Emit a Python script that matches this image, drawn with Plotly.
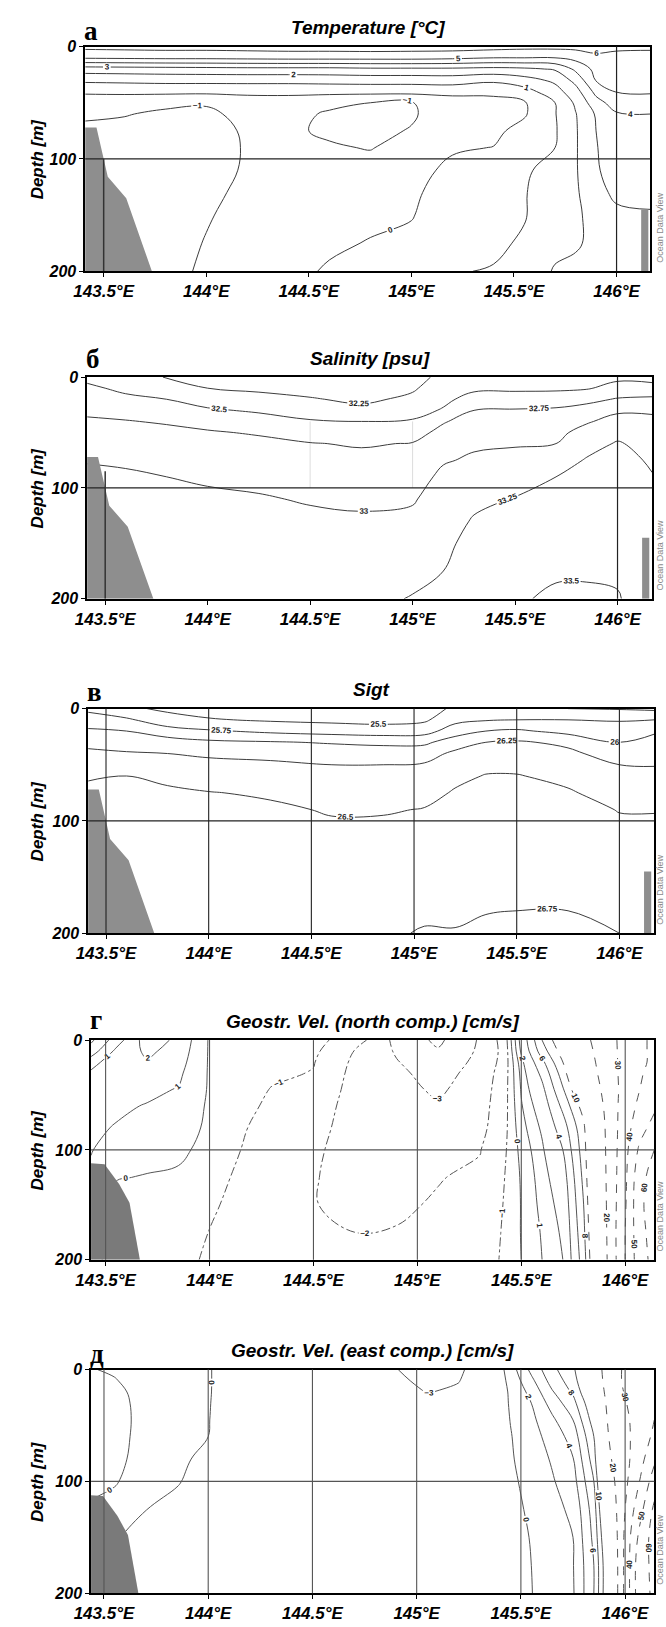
import plotly.graph_objects as go

W, H = 666, 1627

# ---------------- axis ticks ----------------
LON_TICKS = [143.5, 144.0, 144.5, 145.0, 145.5, 146.0]
LON_TICK_TEXT = ["143.5°E", "144°E", "144.5°E", "145°E", "145.5°E", "146°E"]
DEPTH_TICKS = [0, 100, 200]
DEPTH_TICK_TEXT = ["0", "100", "200"]

# ---------------- Temperature [°C] (station profiles) ----------------
T_DEPTH = [0, 10, 20, 30, 40, 50, 60, 75, 90, 110, 130, 150, 175, 200]
T_LON = [143.40, 143.6, 143.8, 144.0, 144.2, 144.4, 144.6, 144.8, 145.0,
         145.2, 145.4, 145.55, 145.7, 145.8, 145.9, 146.0, 146.17]
T_PROFILES = [
    [6.3, 5.1, 2.5, 1.2, 0.15, -0.5, -0.85, -1.2, -1.3, -1.3, -1.3, -1.3, -1.3, -1.3],
    [6.35, 5.15, 2.55, 1.25, 0.2, -0.55, -0.95, -1.25, -1.35, -1.35, -1.35, -1.35, -1.35, -1.35],
    [6.4, 5.2, 2.6, 1.3, 0.25, -0.8, -1.15, -1.3, -1.35, -1.35, -1.3, -1.3, -1.25, -1.2],
    [6.4, 5.2, 2.65, 1.3, 0.25, -0.95, -1.1, -1.15, -1.15, -1.1, -1.1, -1.05, -0.97, -0.9],
    [6.45, 5.25, 2.7, 1.3, 0.3, -0.6, -0.85, -0.95, -0.97, -0.97, -0.9, -0.8, -0.7, -0.6],
    [6.5, 5.3, 2.7, 1.3, 0.3, -0.55, -0.75, -0.85, -0.8, -0.7, -0.6, -0.5, -0.4, -0.25],
    [6.5, 5.3, 2.7, 1.35, 0.3, -0.8, -1.1, -1.15, -0.9, -0.6, -0.45, -0.3, -0.15, 0.1],
    [6.55, 5.3, 2.8, 1.4, 0.3, -1.0, -1.2, -1.2, -1.05, -0.6, -0.4, -0.2, 0.05, 0.3],
    [6.5, 5.3, 2.8, 1.4, 0.3, -1.05, -1.1, -0.95, -0.6, -0.3, -0.15, -0.05, 0.2, 0.5],
    [6.5, 5.2, 2.8, 1.45, 0.35, -0.55, -0.5, -0.3, -0.1, 0.2, 0.4, 0.55, 0.75, 0.95],
    [6.4, 5.0, 2.7, 1.2, 0.15, -0.2, -0.35, -0.2, 0.02, 0.4, 0.6, 0.7, 0.85, 1.05],
    [6.3, 5.0, 2.8, 1.6, 0.6, -0.1, -0.1, 0.3, 0.7, 0.9, 0.95, 0.95, 1.1, 1.3],
    [6.3, 5.0, 3.1, 2.2, 1.6, 1.0, 0.95, 0.9, 1.0, 1.25, 1.45, 1.5, 1.7, 2.1],
    [6.3, 5.3, 4.2, 3.3, 2.6, 2.15, 1.95, 1.9, 1.9, 1.9, 1.85, 1.8, 1.85, 2.3],
    [6.3, 5.8, 5.3, 5.05, 4.3, 3.6, 3.1, 3.0, 2.95, 2.9, 2.7, 2.4, 2.3, 2.4],
    [6.2, 5.7, 5.4, 5.2, 5.05, 4.5, 3.9, 3.6, 3.5, 3.4, 3.2, 2.8, 2.6, 2.5],
    [6.1, 5.8, 5.5, 5.3, 5.1, 4.6, 4.0, 3.7, 3.6, 3.5, 3.3, 2.9, 2.7, 2.6],
]

# ---------------- Salinity [psu] ----------------
S_DEPTH = [0, 10, 20, 30, 40, 50, 60, 75, 90, 110, 130, 150, 175, 200]
S_LON = [143.40, 143.6, 143.8, 144.0, 144.25, 144.5, 144.75, 145.0, 145.15,
         145.3, 145.5, 145.7, 145.85, 146.0, 146.17]
S_PROFILES = [
    [32.45, 32.55, 32.63, 32.71, 32.78, 32.85, 32.91, 32.99, 33.04, 33.08, 33.1, 33.12, 33.14, 33.15],
    [32.35, 32.45, 32.55, 32.68, 32.76, 32.83, 32.89, 32.97, 33.03, 33.08, 33.1, 33.12, 33.14, 33.15],
    [32.24, 32.38, 32.5, 32.62, 32.73, 32.8, 32.86, 32.93, 33.0, 33.05, 33.09, 33.11, 33.13, 33.15],
    [32.15, 32.25, 32.4, 32.53, 32.68, 32.77, 32.83, 32.9, 32.97, 33.04, 33.08, 33.11, 33.13, 33.15],
    [32.1, 32.2, 32.34, 32.47, 32.6, 32.73, 32.8, 32.87, 32.94, 33.02, 33.07, 33.1, 33.13, 33.15],
    [32.08, 32.16, 32.27, 32.4, 32.52, 32.65, 32.76, 32.84, 32.9, 32.98, 33.05, 33.1, 33.14, 33.17],
    [32.05, 32.12, 32.2, 32.32, 32.5, 32.62, 32.73, 32.81, 32.87, 32.95, 33.04, 33.1, 33.15, 33.2],
    [32.18, 32.22, 32.3, 32.42, 32.52, 32.66, 32.76, 32.84, 32.9, 32.98, 33.05, 33.12, 33.2, 33.26],
    [32.3, 32.38, 32.45, 32.52, 32.73, 32.82, 32.9, 32.98, 33.05, 33.1, 33.15, 33.2, 33.25, 33.3],
    [32.4, 32.46, 32.58, 32.75, 32.85, 32.92, 32.97, 33.03, 33.1, 33.2, 33.27, 33.32, 33.38, 33.42],
    [32.4, 32.46, 32.6, 32.77, 32.85, 32.92, 32.98, 33.07, 33.16, 33.26, 33.33, 33.38, 33.43, 33.47],
    [32.4, 32.46, 32.62, 32.79, 32.88, 32.95, 33.0, 33.13, 33.25, 33.33, 33.38, 33.42, 33.47, 33.54],
    [32.42, 32.48, 32.68, 32.85, 32.98, 33.07, 33.16, 33.27, 33.34, 33.39, 33.42, 33.45, 33.48, 33.53],
    [32.45, 32.58, 32.77, 32.97, 33.07, 33.18, 33.27, 33.33, 33.37, 33.4, 33.43, 33.45, 33.48, 33.51],
    [32.42, 32.58, 32.8, 32.97, 33.05, 33.12, 33.17, 33.22, 33.26, 33.3, 33.35, 33.38, 33.4, 33.42],
]

# ---------------- Sigma-t ----------------
D_DEPTH = [0, 10, 20, 30, 40, 50, 60, 75, 90, 110, 130, 150, 175, 200]
D_LON = [143.40, 143.6, 143.8, 144.0, 144.3, 144.6, 144.85, 145.05, 145.2,
         145.35, 145.5, 145.75, 146.0, 146.17]
D_PROFILES = [
    [25.7, 25.87, 26.04, 26.19, 26.3, 26.39, 26.48, 26.54, 26.57, 26.6, 26.62, 26.64, 26.66, 26.68],
    [25.55, 25.79, 26.0, 26.15, 26.27, 26.38, 26.5, 26.55, 26.58, 26.6, 26.62, 26.64, 26.66, 26.68],
    [25.45, 25.6, 25.85, 26.12, 26.25, 26.35, 26.46, 26.53, 26.57, 26.6, 26.62, 26.64, 26.66, 26.68],
    [25.4, 25.52, 25.78, 26.05, 26.22, 26.3, 26.38, 26.51, 26.56, 26.59, 26.62, 26.64, 26.66, 26.68],
    [25.35, 25.47, 25.7, 26.02, 26.2, 26.28, 26.35, 26.47, 26.54, 26.58, 26.61, 26.64, 26.66, 26.69],
    [25.33, 25.44, 25.65, 25.98, 26.13, 26.25, 26.3, 26.4, 26.48, 26.55, 26.6, 26.63, 26.66, 26.69],
    [25.3, 25.42, 25.62, 25.95, 26.12, 26.25, 26.3, 26.4, 26.48, 26.56, 26.62, 26.66, 26.7, 26.73],
    [25.38, 25.46, 25.65, 25.95, 26.15, 26.27, 26.33, 26.43, 26.51, 26.58, 26.64, 26.68, 26.72, 26.76],
    [25.55, 25.68, 25.88, 26.13, 26.3, 26.38, 26.45, 26.52, 26.58, 26.63, 26.67, 26.7, 26.73, 26.755],
    [25.62, 25.73, 26.0, 26.25, 26.35, 26.45, 26.51, 26.57, 26.62, 26.66, 26.69, 26.715, 26.74, 26.77],
    [25.6, 25.75, 26.04, 26.28, 26.37, 26.45, 26.51, 26.58, 26.63, 26.67, 26.7, 26.72, 26.745, 26.77],
    [25.5, 25.75, 25.92, 26.2, 26.3, 26.38, 26.45, 26.52, 26.59, 26.65, 26.69, 26.72, 26.745, 26.77],
    [25.48, 25.73, 25.88, 26.0, 26.14, 26.25, 26.32, 26.42, 26.49, 26.56, 26.62, 26.67, 26.71, 26.75],
    [25.45, 25.75, 25.97, 26.08, 26.17, 26.24, 26.31, 26.41, 26.49, 26.55, 26.6, 26.64, 26.68, 26.72],
]

# ---------------- Geostrophic velocity, north component [cm/s] ----------------
V_DEPTH = [0, 10, 20, 30, 45, 60, 80, 100, 125, 150, 175, 200]
VN_LON = [143.43, 143.55, 143.7, 143.85, 144.0, 144.15, 144.3, 144.5, 144.7, 144.9,
          145.1, 145.3, 145.42, 145.5, 145.6, 145.7, 145.8, 145.9, 146.0, 146.07, 146.14]
VN_PROFILES = [
    [-1.2, -0.5, 0.5, 1.2, 1.3, 1.25, 1.15, 1.05, 0.8, 0.6, 0.5, 0.4],
    [0.5, 1.2, 1.8, 1.6, 1.4, 1.15, 0.95, 0.5, 0.05, -0.3, -0.4, -0.5],
    [2.5, 2.2, 1.9, 1.5, 1.2, 0.95, 0.7, 0.3, -0.05, -0.3, -0.4, -0.6],
    [1.8, 1.6, 1.4, 1.2, 0.95, 0.75, 0.5, 0.2, -0.15, -0.4, -0.6, -0.8],
    [-0.1, -0.1, -0.1, -0.1, -0.1, -0.15, -0.2, -0.3, -0.6, -0.85, -1.02, -1.1],
    [-0.3, -0.35, -0.4, -0.45, -0.55, -0.7, -0.9, -1.0, -1.2, -1.3, -1.4, -1.5],
    [-0.5, -0.6, -0.7, -0.8, -1.05, -1.2, -1.35, -1.45, -1.55, -1.6, -1.65, -1.7],
    [-0.7, -0.8, -0.95, -1.05, -1.3, -1.5, -1.7, -1.85, -1.95, -1.97, -1.9, -1.8],
    [-1.5, -2.05, -2.2, -2.3, -2.35, -2.4, -2.4, -2.4, -2.3, -2.2, -2.0, -1.85],
    [-3.3, -3.1, -2.95, -2.8, -2.7, -2.6, -2.5, -2.4, -2.3, -2.15, -1.95, -1.8],
    [-4.2, -3.9, -3.6, -3.4, -3.15, -2.9, -2.6, -2.3, -2.05, -1.9, -1.75, -1.65],
    [-2.9, -2.85, -2.75, -2.6, -2.5, -2.4, -2.3, -2.05, -1.8, -1.65, -1.55, -1.5],
    [-1.6, -1.7, -1.65, -1.55, -1.45, -1.4, -1.3, -1.15, -1.0, -0.95, -0.9, -0.85],
    [2.5, 2.2, 1.6, 1.3, 1.1, 0.9, 0.6, 0.3, 0.1, 0.05, 0.05, 0.0],
    [8.0, 7.0, 5.5, 4.5, 3.5, 2.8, 2.2, 1.8, 1.5, 1.3, 1.1, 1.0],
    [12.0, 11.0, 10.0, 9.0, 7.8, 6.5, 5.0, 4.0, 3.0, 2.5, 2.2, 2.0],
    [18.0, 17.0, 16.0, 15.0, 13.0, 11.0, 9.5, 9.0, 8.5, 8.0, 7.5, 7.0],
    [24.0, 23.5, 23.0, 22.5, 21.5, 20.5, 19.5, 19.0, 18.5, 18.0, 17.5, 17.0],
    [34.0, 34.0, 34.0, 34.0, 34.0, 35.0, 36.0, 37.0, 38.0, 39.0, 40.0, 40.0],
    [38.0, 38.0, 38.0, 39.0, 40.0, 42.0, 46.0, 52.0, 57.0, 58.0, 57.0, 56.0],
    [42.0, 42.0, 42.0, 43.0, 45.0, 48.0, 54.0, 60.0, 64.0, 65.0, 64.0, 63.0],
]

# ---------------- Geostrophic velocity, east component [cm/s] ----------------
VE_LON = [143.43, 143.55, 143.7, 143.85, 144.0, 144.15, 144.4, 144.7, 144.9, 145.05,
          145.2, 145.35, 145.45, 145.55, 145.65, 145.75, 145.85, 145.95, 146.05, 146.14]
VE_PROFILES = [
    [-0.05, -0.4, -0.4, -0.4, -0.4, -0.35, -0.3, -0.2, 0.1, 0.2, 0.2, 0.2],
    [0.1, -0.05, -0.2, -0.3, -0.35, -0.3, -0.2, -0.05, 0.2, 0.1, -0.2, -0.4],
    [0.4, 0.35, 0.3, 0.3, 0.3, 0.3, 0.3, 0.3, 0.02, -0.4, -0.6, -0.7],
    [0.4, 0.4, 0.4, 0.4, 0.35, 0.3, 0.25, 0.1, -0.4, -0.7, -0.8, -0.9],
    [0.1, 0.1, 0.1, 0.08, 0.05, 0.0, -0.3, -0.6, -0.9, -1.0, -1.1, -1.2],
    [-0.8, -0.8, -0.85, -0.9, -0.95, -1.0, -1.1, -1.2, -1.3, -1.35, -1.4, -1.4],
    [-1.3, -1.3, -1.35, -1.4, -1.45, -1.5, -1.5, -1.55, -1.55, -1.6, -1.6, -1.6],
    [-2.0, -2.0, -1.9, -1.85, -1.8, -1.75, -1.7, -1.7, -1.65, -1.6, -1.6, -1.6],
    [-2.95, -2.7, -2.4, -2.2, -2.0, -1.9, -1.8, -1.75, -1.7, -1.65, -1.6, -1.6],
    [-3.6, -3.35, -3.05, -2.7, -2.3, -2.1, -1.9, -1.8, -1.7, -1.65, -1.6, -1.6],
    [-3.2, -3.05, -2.8, -2.5, -2.2, -2.0, -1.8, -1.7, -1.6, -1.5, -1.45, -1.4],
    [-2.2, -2.1, -2.0, -1.8, -1.6, -1.4, -1.2, -1.1, -1.0, -0.9, -0.85, -0.8],
    [1.0, 0.6, 0.3, 0.2, 0.05, -0.1, -0.2, -0.3, -0.35, -0.4, -0.4, -0.4],
    [4.5, 3.5, 2.6, 2.0, 1.5, 1.2, 0.9, 0.5, 0.2, 0.05, 0.0, -0.05],
    [7.5, 6.8, 5.8, 4.8, 3.6, 2.8, 2.2, 1.8, 1.4, 1.2, 1.0, 0.9],
    [9.5, 9.0, 8.3, 7.3, 6.0, 4.8, 3.9, 3.2, 2.4, 2.0, 1.9, 1.8],
    [15.0, 14.0, 13.0, 12.0, 11.0, 10.0, 9.0, 8.0, 7.0, 6.5, 6.0, 6.0],
    [28.0, 28.0, 27.0, 26.0, 25.0, 24.0, 22.0, 20.0, 18.0, 16.0, 15.0, 15.0],
    [34.0, 34.0, 34.0, 33.0, 32.0, 32.0, 33.0, 36.0, 42.0, 48.0, 50.0, 50.0],
    [40.0, 40.0, 40.0, 40.0, 40.0, 42.0, 48.0, 55.0, 62.0, 65.0, 64.0, 63.0],
]

# ---------------- sea floor ----------------
BOTTOM_LON = [143.40, 143.40, 143.465, 143.50, 143.52, 143.61, 143.735]
BOTTOM_DEPTH = [200, 72, 72, 100, 116, 135, 200]
BOTTOM_E_LON = [146.12, 146.12, 146.155, 146.155]
BOTTOM_E_DEPTH = [200, 145, 145, 200]
BOTTOM_VEL_LON = [143.42, 143.42, 143.495, 143.565, 143.615, 143.665]
BOTTOM_VEL_DEPTH = [200, 112, 113, 131, 148, 200]

# ---------------- panel layout (pixels) ----------------
PANELS = [
    dict(n="", x0=70, x1=650, y0=39, y1=266, xr=[143.41, 146.165], letter="а",
         ly=16, title="Temperature [°C]"),
    dict(n="2", x0=72, x1=652, y0=373, y1=597, xr=[143.412, 146.17], letter="б",
         ly=18, title="Salinity [psu]"),
    dict(n="3", x0=73, x1=654, y0=708, y1=935, xr=[143.413, 146.17], letter="в",
         ly=17, title="Sigt"),
    dict(n="4", x0=76, x1=654, y0=1043, y1=1265, xr=[143.43, 146.14], letter="г",
         ly=20, title="Geostr. Vel. (north comp.) [cm/s]"),
    dict(n="5", x0=76, x1=654, y0=1376, y1=1602, xr=[143.438, 146.14], letter="д",
         ly=16, title="Geostr. Vel. (east comp.) [cm/s]"),
]

SANS = "Liberation Sans, Arial, sans-serif"
SERIF = "Liberation Serif, Times New Roman, serif"


def grid(profiles):
    return [list(row) for row in zip(*profiles)]


def contour(lon, depth, profiles, ax, start, end, size, color="#3c3c3c",
            dash="solid", width=1.0):
    return go.Contour(
        x=lon, y=depth, z=grid(profiles),
        xaxis="x" + ax, yaxis="y" + ax,
        autocontour=False, showscale=False, hoverinfo="skip",
        contours=dict(start=start, end=end, size=size, coloring="none",
                      showlabels=True, labelformat=".4~g",
                      labelfont=dict(size=8, color="#222", family=SANS, weight="bold")),
        line=dict(color=color, width=width, smoothing=1.1, dash=dash),
    )


def floor(lon, depth, ax, color):
    return go.Scatter(x=lon, y=depth, xaxis="x" + ax, yaxis="y" + ax,
                      mode="lines", fill="toself", fillcolor=color,
                      line=dict(width=0, color=color), hoverinfo="skip",
                      showlegend=False)


fig = go.Figure()

fig.add_trace(contour(T_LON, T_DEPTH, T_PROFILES, "", -1, 6, 1))
fig.add_trace(contour(S_LON, S_DEPTH, S_PROFILES, "2", 32.25, 33.5, 0.25))
fig.add_trace(contour(D_LON, D_DEPTH, D_PROFILES, "3", 25.5, 26.75, 0.25))
fig.add_trace(contour(VN_LON, V_DEPTH, VN_PROFILES, "4", -4, -1, 1, "#555", "dashdot"))
fig.add_trace(contour(VN_LON, V_DEPTH, VN_PROFILES, "4", 0, 2, 1, "#555"))
fig.add_trace(contour(VN_LON, V_DEPTH, VN_PROFILES, "4", 4, 8, 2, "#555"))
fig.add_trace(contour(VN_LON, V_DEPTH, VN_PROFILES, "4", 10, 60, 10, "#555", "dash"))
fig.add_trace(contour(VE_LON, V_DEPTH, VE_PROFILES, "5", -3, 0, 3, "#555"))
fig.add_trace(contour(VE_LON, V_DEPTH, VE_PROFILES, "5", 2, 10, 2, "#555"))
fig.add_trace(contour(VE_LON, V_DEPTH, VE_PROFILES, "5", 20, 60, 10, "#555", "dash"))

for ax in ["", "2", "3"]:
    fig.add_trace(floor(BOTTOM_LON, BOTTOM_DEPTH, ax, "#8e8e8e"))
    fig.add_trace(floor(BOTTOM_E_LON, BOTTOM_E_DEPTH, ax, "#8e8e8e"))
for ax in ["4", "5"]:
    fig.add_trace(floor(BOTTOM_VEL_LON, BOTTOM_VEL_DEPTH, ax, "#7a7a7a"))

layout = dict(width=W, height=H, margin=dict(l=0, r=0, t=0, b=0),
              paper_bgcolor="white", plot_bgcolor="white", showlegend=False)
annotations = []
shapes = []
xtickfont = dict(family=SANS, size=17, color="black", weight="bold", style="italic")
ytickfont = dict(family=SANS, size=16, color="black", weight="bold", style="italic")

for p in PANELS:
    n = p["n"]
    layout["xaxis" + n] = dict(
        domain=[p["x0"] / W, p["x1"] / W], range=p["xr"], anchor="y" + n,
        tickvals=LON_TICKS, ticktext=LON_TICK_TEXT, tickfont=xtickfont,
        ticks="outside", ticklen=4, tickwidth=1, tickcolor="black",
        showline=True, mirror=True, linecolor="black", linewidth=1.6,
        showgrid=False, zeroline=False, fixedrange=True)
    layout["yaxis" + n] = dict(
        domain=[1 - p["y1"] / H, 1 - p["y0"] / H], range=[200, 0], anchor="x" + n,
        tickvals=DEPTH_TICKS, ticktext=DEPTH_TICK_TEXT, tickfont=ytickfont,
        ticks="outside", ticklen=4, tickwidth=1, tickcolor="black",
        showline=True, mirror=True, linecolor="black", linewidth=1.6,
        showgrid=False, zeroline=False, fixedrange=True)
    cx = (p["x0"] + p["x1"]) / 2
    annotations.append(dict(
        text=p["title"], x=cx / W, y=1 - (p["y0"] - 19) / H, xref="paper", yref="paper",
        showarrow=False, xanchor="center", yanchor="middle",
        font=dict(family=SANS, size=19, color="black", weight="bold", style="italic")))
    annotations.append(dict(
        text=p["letter"], x=(p["x0"] - 3) / W, y=1 - (p["y0"] - p["ly"]) / H,
        xref="paper", yref="paper", showarrow=False, xanchor="left", yanchor="middle",
        font=dict(family=SERIF, size=27, color="black", weight="bold")))
    annotations.append(dict(
        text="Depth [m]", x=21 / W, y=1 - ((p["y0"] + p["y1"]) / 2) / H,
        xref="paper", yref="paper", showarrow=False, textangle=-90,
        xanchor="center", yanchor="middle",
        font=dict(family=SANS, size=17, color="black", weight="bold", style="italic")))
    annotations.append(dict(
        text="Ocean Data View", x=660 / W, y=1 - (p["y1"] - 44) / H,
        xref="paper", yref="paper", showarrow=False, textangle=-90,
        xanchor="center", yanchor="middle",
        font=dict(family=SANS, size=9, color="#8a8a8a")))

    xr, yr = "x" + n, "y" + n
    shapes.append(dict(type="line", xref=xr + " domain", yref=yr, x0=0, x1=1, y0=100, y1=100,
                       line=dict(color="#222" if n in ["", "2", "3"] else "#555", width=1.2),
                       layer="above"))

for n in ["", "2"]:
    shapes.append(dict(type="line", xref="x" + n, yref="y" + n + " domain", x0=146, x1=146,
                       y0=0, y1=1, line=dict(color="#222", width=1.2), layer="above"))
    shapes.append(dict(type="line", xref="x" + n, yref="y" + n, x0=143.5, x1=143.5,
                       y0=100 if n == "" else 85, y1=200, line=dict(color="#333", width=1.5),
                       layer="above"))
for lon in [144.5, 145.0]:
    shapes.append(dict(type="line", xref="x2", yref="y2", x0=lon, x1=lon, y0=40, y1=100,
                       line=dict(color="#d4d4d4", width=0.8), layer="below"))
for n, col in [("3", "#222"), ("4", "#555"), ("5", "#555")]:
    for lon in LON_TICKS:
        shapes.append(dict(type="line", xref="x" + n, yref="y" + n + " domain", x0=lon, x1=lon,
                           y0=0, y1=1, line=dict(color=col, width=1.1), layer="above"))

layout["annotations"] = annotations
layout["shapes"] = shapes
fig.update_layout(**layout)

fig.write_html("out.html")
